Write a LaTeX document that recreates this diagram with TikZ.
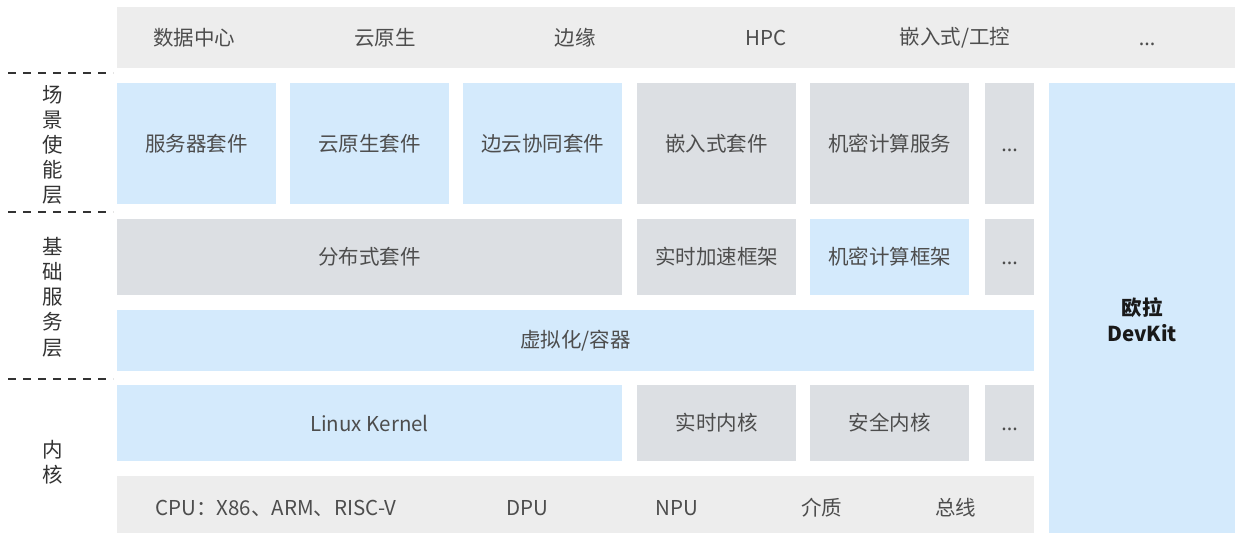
\documentclass[tikz,border=0pt]{standalone}
\usepackage{fontspec}
\setmainfont{Noto Sans CJK SC}
\newfontfamily\latinfont{Noto Sans}
\newcommand{\mydots}{\vphantom{中}{\latinfont ...}}
\definecolor{bblue}{HTML}{D4EAFC}
\definecolor{bgray}{HTML}{DCDFE3}
\definecolor{lgray}{HTML}{EDEDED}
\definecolor{txt}{HTML}{4D4D4D}
\definecolor{dtxt}{HTML}{333333}
\tikzset{
  bx/.style={inner sep=0pt, outer sep=0pt, text=txt, font=\fontsize{20.5}{25}\selectfont},
  bluebox/.style={bx, fill=bblue},
  graybox/.style={bx, fill=bgray},
  barbox/.style={bx, fill=lgray},
  lbl/.style={inner sep=0pt, text=txt, font=\fontsize{20.5}{25}\selectfont},
  sidelbl/.style={inner sep=0pt, text=dtxt, align=center, font=\fontsize{20.5}{25.2}\selectfont},
  sep/.style={draw=dtxt, line width=1.2pt, dash pattern=on 8pt off 7pt}
}
\begin{document}
\begin{tikzpicture}[x=1pt,y=-1pt]
\useasboundingbox (0,0) rectangle (1235,533);
% top bar
\node[barbox, minimum width=1118, minimum height=61] (top) at (676,37.5) {};
\node[lbl] (t1) at (194,38) {数据中心};
\node[lbl] (t2) at (385,38) {云原生};
\node[lbl] (t3) at (575,38) {边缘};
\node[lbl] (t4) at (766,38) {HPC};
\node[lbl] (t5) at (955,38) {嵌入式/工控};
\node[lbl] (t6) at (1147,38) {\mydots};
% row 1
\node[bluebox, minimum width=159, minimum height=121] (s1) at (196.5,143.5) {服务器套件};
\node[bluebox, minimum width=159, minimum height=121] (s2) at (369.5,143.5) {云原生套件};
\node[bluebox, minimum width=159, minimum height=121] (s3) at (542.5,143.5) {边云协同套件};
\node[graybox, minimum width=159, minimum height=121] (s4) at (716.5,143.5) {嵌入式套件};
\node[graybox, minimum width=159, minimum height=121] (s5) at (889.5,143.5) {机密计算服务};
\node[graybox, minimum width=49, minimum height=121] (s6) at (1009.5,143.5) {\mydots};
% row 2
\node[graybox, minimum width=505, minimum height=76] (f1) at (369.5,257) {分布式套件};
\node[graybox, minimum width=159, minimum height=76] (f2) at (716.5,257) {实时加速框架};
\node[bluebox, minimum width=159, minimum height=76] (f3) at (889.5,257) {机密计算框架};
\node[graybox, minimum width=49, minimum height=76] (f4) at (1009.5,257) {\mydots};
% row 3
\node[bluebox, minimum width=917, minimum height=61] (v1) at (575.5,340.5) {虚拟化/容器};
% row 4
\node[bluebox, minimum width=505, minimum height=76] (k1) at (369.5,423) {Linux Kernel};
\node[graybox, minimum width=159, minimum height=76] (k2) at (716.5,423) {实时内核};
\node[graybox, minimum width=159, minimum height=76] (k3) at (889.5,423) {安全内核};
\node[graybox, minimum width=49, minimum height=76] (k4) at (1009.5,423) {\mydots};
% row 5
\node[barbox, minimum width=917, minimum height=57] (hw) at (575.5,504.5) {};
\node[lbl] (h1) at (276,508) {CPU：X86、ARM、RISC-V};
\node[lbl] (h2) at (527,508) {DPU};
\node[lbl] (h3) at (677,508) {NPU};
\node[lbl] (h4) at (821.5,508) {介质};
\node[lbl] (h5) at (955.5,508) {总线};
% devkit
\node[bluebox, minimum width=186, minimum height=450] (dk) at (1142,308) {};
\node[inner sep=0pt, align=center, text=black!90, font=\fontsize{20.5}{26}\selectfont\bfseries] (dkl) at (1142,320) {欧拉\\DevKit};
% side labels
\node[sidelbl] (L1) at (53,145) {场\\景\\使\\能\\层};
\node[sidelbl] (L2) at (53,297) {基\\础\\服\\务\\层};
\node[sidelbl] (L3) at (53,462) {内\\核};
% dashed separators
\coordinate (d1a) at (8,73); \coordinate (d1b) at (113,73);
\coordinate (d2a) at (8,212); \coordinate (d2b) at (113,212);
\coordinate (d3a) at (8,379); \coordinate (d3b) at (113,379);
\draw[sep] (d1a) -- (d1b);
\draw[sep] (d2a) -- (d2b);
\draw[sep] (d3a) -- (d3b);
\end{tikzpicture}
\end{document}
